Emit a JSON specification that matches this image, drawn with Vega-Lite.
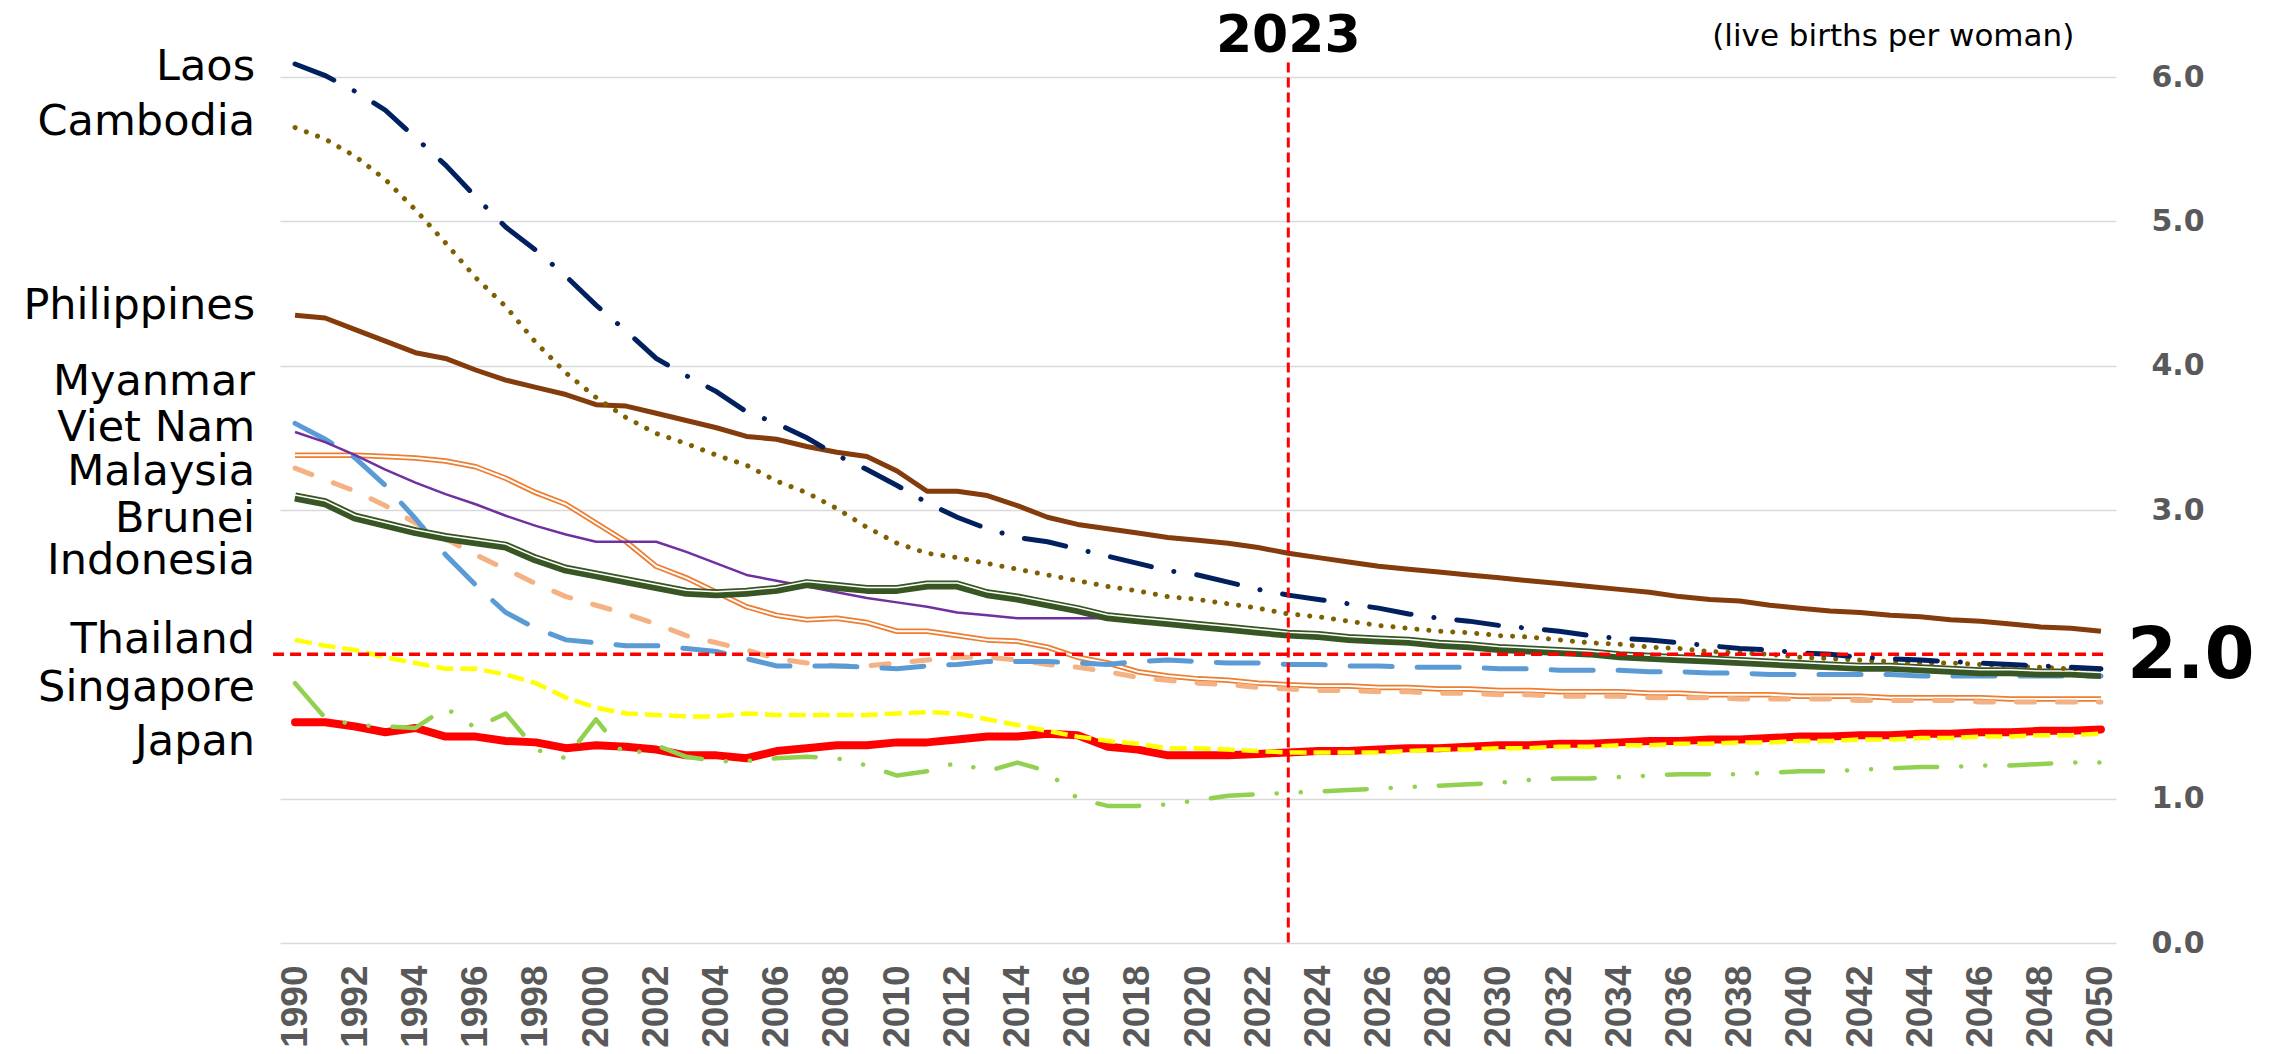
{
"$schema": "https://vega.github.io/schema/vega-lite/v6.json",
"width": 1836, "height": 866,
"autosize": "none",
"padding": {"left": 280, "top": 77, "right": 156, "bottom": 111},
"background": "white",
"config": {"view": {"stroke": null}},
"data": {"values": [
{"year":1990,"Laos":6.09,"Cambodia":5.65,"Philippines":4.35,"Myanmar":3.54,"Viet Nam":3.60,"Malaysia":3.38,"Brunei":3.29,"Indonesia":3.09,"Thailand":2.10,"Singapore":1.80,"Japan":1.53},
{"year":1991,"Laos":6.01,"Cambodia":5.57,"Philippines":4.33,"Myanmar":3.47,"Viet Nam":3.49,"Malaysia":3.38,"Brunei":3.21,"Indonesia":3.05,"Thailand":2.06,"Singapore":1.56,"Japan":1.53},
{"year":1992,"Laos":5.90,"Cambodia":5.45,"Philippines":4.25,"Myanmar":3.38,"Viet Nam":3.36,"Malaysia":3.38,"Brunei":3.13,"Indonesia":2.95,"Thailand":2.03,"Singapore":1.51,"Japan":1.50},
{"year":1993,"Laos":5.77,"Cambodia":5.29,"Philippines":4.17,"Myanmar":3.28,"Viet Nam":3.17,"Malaysia":3.37,"Brunei":3.03,"Indonesia":2.90,"Thailand":1.98,"Singapore":1.50,"Japan":1.46},
{"year":1994,"Laos":5.58,"Cambodia":5.08,"Philippines":4.09,"Myanmar":3.19,"Viet Nam":2.94,"Malaysia":3.36,"Brunei":2.91,"Indonesia":2.85,"Thailand":1.94,"Singapore":1.49,"Japan":1.49},
{"year":1995,"Laos":5.39,"Cambodia":4.85,"Philippines":4.05,"Myanmar":3.11,"Viet Nam":2.69,"Malaysia":3.34,"Brunei":2.80,"Indonesia":2.81,"Thailand":1.90,"Singapore":1.63,"Japan":1.43},
{"year":1996,"Laos":5.17,"Cambodia":4.61,"Philippines":3.97,"Myanmar":3.04,"Viet Nam":2.48,"Malaysia":3.30,"Brunei":2.69,"Indonesia":2.78,"Thailand":1.90,"Singapore":1.49,"Japan":1.43},
{"year":1997,"Laos":4.96,"Cambodia":4.41,"Philippines":3.90,"Myanmar":2.96,"Viet Nam":2.29,"Malaysia":3.22,"Brunei":2.59,"Indonesia":2.75,"Thailand":1.86,"Singapore":1.59,"Japan":1.40},
{"year":1998,"Laos":4.80,"Cambodia":4.16,"Philippines":3.85,"Myanmar":2.89,"Viet Nam":2.18,"Malaysia":3.12,"Brunei":2.49,"Indonesia":2.66,"Thailand":1.80,"Singapore":1.34,"Japan":1.39},
{"year":1999,"Laos":4.62,"Cambodia":3.95,"Philippines":3.80,"Myanmar":2.83,"Viet Nam":2.10,"Malaysia":3.04,"Brunei":2.40,"Indonesia":2.59,"Thailand":1.70,"Singapore":1.28,"Japan":1.35},
{"year":2000,"Laos":4.42,"Cambodia":3.78,"Philippines":3.73,"Myanmar":2.78,"Viet Nam":2.08,"Malaysia":2.91,"Brunei":2.34,"Indonesia":2.55,"Thailand":1.63,"Singapore":1.55,"Japan":1.37},
{"year":2001,"Laos":4.24,"Cambodia":3.64,"Philippines":3.72,"Myanmar":2.78,"Viet Nam":2.06,"Malaysia":2.78,"Brunei":2.28,"Indonesia":2.51,"Thailand":1.59,"Singapore":1.29,"Japan":1.36},
{"year":2002,"Laos":4.05,"Cambodia":3.53,"Philippines":3.67,"Myanmar":2.78,"Viet Nam":2.06,"Malaysia":2.61,"Brunei":2.21,"Indonesia":2.47,"Thailand":1.58,"Singapore":1.37,"Japan":1.34},
{"year":2003,"Laos":3.93,"Cambodia":3.46,"Philippines":3.62,"Myanmar":2.71,"Viet Nam":2.04,"Malaysia":2.53,"Brunei":2.13,"Indonesia":2.43,"Thailand":1.57,"Singapore":1.29,"Japan":1.30},
{"year":2004,"Laos":3.82,"Cambodia":3.38,"Philippines":3.57,"Myanmar":2.63,"Viet Nam":2.02,"Malaysia":2.43,"Brunei":2.08,"Indonesia":2.42,"Thailand":1.57,"Singapore":1.26,"Japan":1.30},
{"year":2005,"Laos":3.68,"Cambodia":3.31,"Philippines":3.51,"Myanmar":2.55,"Viet Nam":1.97,"Malaysia":2.33,"Brunei":2.03,"Indonesia":2.43,"Thailand":1.59,"Singapore":1.26,"Japan":1.28},
{"year":2006,"Laos":3.60,"Cambodia":3.20,"Philippines":3.49,"Myanmar":2.51,"Viet Nam":1.92,"Malaysia":2.27,"Brunei":1.97,"Indonesia":2.45,"Thailand":1.58,"Singapore":1.28,"Japan":1.33},
{"year":2007,"Laos":3.50,"Cambodia":3.12,"Philippines":3.44,"Myanmar":2.47,"Viet Nam":1.92,"Malaysia":2.24,"Brunei":1.94,"Indonesia":2.49,"Thailand":1.58,"Singapore":1.29,"Japan":1.35},
{"year":2008,"Laos":3.38,"Cambodia":3.01,"Philippines":3.40,"Myanmar":2.43,"Viet Nam":1.92,"Malaysia":2.25,"Brunei":1.92,"Indonesia":2.47,"Thailand":1.58,"Singapore":1.28,"Japan":1.37},
{"year":2009,"Laos":3.28,"Cambodia":2.88,"Philippines":3.37,"Myanmar":2.39,"Viet Nam":1.91,"Malaysia":2.22,"Brunei":1.92,"Indonesia":2.45,"Thailand":1.58,"Singapore":1.23,"Japan":1.37},
{"year":2010,"Laos":3.17,"Cambodia":2.77,"Philippines":3.27,"Myanmar":2.36,"Viet Nam":1.90,"Malaysia":2.16,"Brunei":1.94,"Indonesia":2.45,"Thailand":1.59,"Singapore":1.16,"Japan":1.39},
{"year":2011,"Laos":3.05,"Cambodia":2.70,"Philippines":3.13,"Myanmar":2.33,"Viet Nam":1.92,"Malaysia":2.16,"Brunei":1.96,"Indonesia":2.48,"Thailand":1.60,"Singapore":1.19,"Japan":1.39},
{"year":2012,"Laos":2.95,"Cambodia":2.67,"Philippines":3.13,"Myanmar":2.29,"Viet Nam":1.93,"Malaysia":2.13,"Brunei":1.98,"Indonesia":2.48,"Thailand":1.59,"Singapore":1.25,"Japan":1.41},
{"year":2013,"Laos":2.87,"Cambodia":2.63,"Philippines":3.10,"Myanmar":2.27,"Viet Nam":1.95,"Malaysia":2.10,"Brunei":1.98,"Indonesia":2.42,"Thailand":1.55,"Singapore":1.19,"Japan":1.43},
{"year":2014,"Laos":2.81,"Cambodia":2.59,"Philippines":3.03,"Myanmar":2.25,"Viet Nam":1.95,"Malaysia":2.09,"Brunei":1.96,"Indonesia":2.39,"Thailand":1.51,"Singapore":1.25,"Japan":1.43},
{"year":2015,"Laos":2.78,"Cambodia":2.55,"Philippines":2.95,"Myanmar":2.25,"Viet Nam":1.95,"Malaysia":2.05,"Brunei":1.93,"Indonesia":2.35,"Thailand":1.47,"Singapore":1.19,"Japan":1.45},
{"year":2016,"Laos":2.73,"Cambodia":2.51,"Philippines":2.90,"Myanmar":2.25,"Viet Nam":1.94,"Malaysia":1.98,"Brunei":1.91,"Indonesia":2.31,"Thailand":1.43,"Singapore":1.00,"Japan":1.44},
{"year":2017,"Laos":2.68,"Cambodia":2.47,"Philippines":2.87,"Myanmar":2.25,"Viet Nam":1.93,"Malaysia":1.94,"Brunei":1.88,"Indonesia":2.26,"Thailand":1.40,"Singapore":0.95,"Japan":1.36},
{"year":2018,"Laos":2.63,"Cambodia":2.44,"Philippines":2.84,"Myanmar":2.23,"Viet Nam":1.95,"Malaysia":1.88,"Brunei":1.84,"Indonesia":2.24,"Thailand":1.38,"Singapore":0.95,"Japan":1.34},
{"year":2019,"Laos":2.58,"Cambodia":2.40,"Philippines":2.81,"Myanmar":2.21,"Viet Nam":1.96,"Malaysia":1.85,"Brunei":1.82,"Indonesia":2.22,"Thailand":1.35,"Singapore":0.96,"Japan":1.30},
{"year":2020,"Laos":2.55,"Cambodia":2.38,"Philippines":2.79,"Myanmar":2.19,"Viet Nam":1.95,"Malaysia":1.83,"Brunei":1.80,"Indonesia":2.20,"Thailand":1.35,"Singapore":0.99,"Japan":1.30},
{"year":2021,"Laos":2.50,"Cambodia":2.35,"Philippines":2.77,"Myanmar":2.17,"Viet Nam":1.94,"Malaysia":1.82,"Brunei":1.79,"Indonesia":2.18,"Thailand":1.34,"Singapore":1.02,"Japan":1.30},
{"year":2022,"Laos":2.45,"Cambodia":2.32,"Philippines":2.74,"Myanmar":2.15,"Viet Nam":1.94,"Malaysia":1.80,"Brunei":1.77,"Indonesia":2.16,"Thailand":1.33,"Singapore":1.03,"Japan":1.31},
{"year":2023,"Laos":2.41,"Cambodia":2.28,"Philippines":2.70,"Myanmar":2.13,"Viet Nam":1.93,"Malaysia":1.79,"Brunei":1.76,"Indonesia":2.14,"Thailand":1.32,"Singapore":1.04,"Japan":1.32},
{"year":2024,"Laos":2.38,"Cambodia":2.26,"Philippines":2.67,"Myanmar":2.12,"Viet Nam":1.93,"Malaysia":1.78,"Brunei":1.75,"Indonesia":2.13,"Thailand":1.32,"Singapore":1.05,"Japan":1.33},
{"year":2025,"Laos":2.35,"Cambodia":2.23,"Philippines":2.64,"Myanmar":2.10,"Viet Nam":1.92,"Malaysia":1.78,"Brunei":1.75,"Indonesia":2.11,"Thailand":1.32,"Singapore":1.06,"Japan":1.33},
{"year":2026,"Laos":2.32,"Cambodia":2.20,"Philippines":2.61,"Myanmar":2.09,"Viet Nam":1.92,"Malaysia":1.77,"Brunei":1.74,"Indonesia":2.10,"Thailand":1.32,"Singapore":1.07,"Japan":1.34},
{"year":2027,"Laos":2.28,"Cambodia":2.18,"Philippines":2.59,"Myanmar":2.08,"Viet Nam":1.91,"Malaysia":1.77,"Brunei":1.74,"Indonesia":2.09,"Thailand":1.33,"Singapore":1.08,"Japan":1.35},
{"year":2028,"Laos":2.25,"Cambodia":2.16,"Philippines":2.57,"Myanmar":2.06,"Viet Nam":1.91,"Malaysia":1.76,"Brunei":1.73,"Indonesia":2.07,"Thailand":1.34,"Singapore":1.09,"Japan":1.35},
{"year":2029,"Laos":2.23,"Cambodia":2.15,"Philippines":2.55,"Myanmar":2.05,"Viet Nam":1.91,"Malaysia":1.76,"Brunei":1.73,"Indonesia":2.06,"Thailand":1.34,"Singapore":1.10,"Japan":1.36},
{"year":2030,"Laos":2.20,"Cambodia":2.13,"Philippines":2.53,"Myanmar":2.03,"Viet Nam":1.90,"Malaysia":1.75,"Brunei":1.72,"Indonesia":2.04,"Thailand":1.35,"Singapore":1.11,"Japan":1.37},
{"year":2031,"Laos":2.18,"Cambodia":2.12,"Philippines":2.51,"Myanmar":2.02,"Viet Nam":1.90,"Malaysia":1.75,"Brunei":1.72,"Indonesia":2.03,"Thailand":1.35,"Singapore":1.13,"Japan":1.37},
{"year":2032,"Laos":2.16,"Cambodia":2.10,"Philippines":2.49,"Myanmar":2.01,"Viet Nam":1.89,"Malaysia":1.74,"Brunei":1.71,"Indonesia":2.02,"Thailand":1.36,"Singapore":1.14,"Japan":1.38},
{"year":2033,"Laos":2.13,"Cambodia":2.08,"Philippines":2.47,"Myanmar":2.00,"Viet Nam":1.89,"Malaysia":1.74,"Brunei":1.71,"Indonesia":2.01,"Thailand":1.36,"Singapore":1.14,"Japan":1.38},
{"year":2034,"Laos":2.11,"Cambodia":2.07,"Philippines":2.45,"Myanmar":1.98,"Viet Nam":1.89,"Malaysia":1.74,"Brunei":1.71,"Indonesia":1.99,"Thailand":1.37,"Singapore":1.15,"Japan":1.39},
{"year":2035,"Laos":2.10,"Cambodia":2.05,"Philippines":2.43,"Myanmar":1.97,"Viet Nam":1.88,"Malaysia":1.73,"Brunei":1.70,"Indonesia":1.98,"Thailand":1.37,"Singapore":1.16,"Japan":1.40},
{"year":2036,"Laos":2.08,"Cambodia":2.04,"Philippines":2.40,"Myanmar":1.96,"Viet Nam":1.88,"Malaysia":1.73,"Brunei":1.70,"Indonesia":1.97,"Thailand":1.38,"Singapore":1.17,"Japan":1.40},
{"year":2037,"Laos":2.06,"Cambodia":2.02,"Philippines":2.38,"Myanmar":1.95,"Viet Nam":1.87,"Malaysia":1.72,"Brunei":1.70,"Indonesia":1.96,"Thailand":1.38,"Singapore":1.17,"Japan":1.41},
{"year":2038,"Laos":2.04,"Cambodia":2.01,"Philippines":2.37,"Myanmar":1.94,"Viet Nam":1.87,"Malaysia":1.72,"Brunei":1.69,"Indonesia":1.95,"Thailand":1.39,"Singapore":1.17,"Japan":1.41},
{"year":2039,"Laos":2.03,"Cambodia":2.00,"Philippines":2.34,"Myanmar":1.93,"Viet Nam":1.86,"Malaysia":1.72,"Brunei":1.69,"Indonesia":1.94,"Thailand":1.39,"Singapore":1.18,"Japan":1.42},
{"year":2040,"Laos":2.01,"Cambodia":1.98,"Philippines":2.32,"Myanmar":1.92,"Viet Nam":1.86,"Malaysia":1.71,"Brunei":1.69,"Indonesia":1.93,"Thailand":1.40,"Singapore":1.19,"Japan":1.43},
{"year":2041,"Laos":2.00,"Cambodia":1.97,"Philippines":2.30,"Myanmar":1.91,"Viet Nam":1.86,"Malaysia":1.71,"Brunei":1.69,"Indonesia":1.92,"Thailand":1.40,"Singapore":1.19,"Japan":1.43},
{"year":2042,"Laos":1.98,"Cambodia":1.96,"Philippines":2.29,"Myanmar":1.90,"Viet Nam":1.86,"Malaysia":1.71,"Brunei":1.68,"Indonesia":1.91,"Thailand":1.41,"Singapore":1.20,"Japan":1.44},
{"year":2043,"Laos":1.97,"Cambodia":1.95,"Philippines":2.27,"Myanmar":1.90,"Viet Nam":1.86,"Malaysia":1.70,"Brunei":1.68,"Indonesia":1.91,"Thailand":1.41,"Singapore":1.21,"Japan":1.44},
{"year":2044,"Laos":1.96,"Cambodia":1.94,"Philippines":2.26,"Myanmar":1.89,"Viet Nam":1.85,"Malaysia":1.70,"Brunei":1.68,"Indonesia":1.90,"Thailand":1.42,"Singapore":1.22,"Japan":1.45},
{"year":2045,"Laos":1.95,"Cambodia":1.94,"Philippines":2.24,"Myanmar":1.88,"Viet Nam":1.85,"Malaysia":1.70,"Brunei":1.68,"Indonesia":1.89,"Thailand":1.42,"Singapore":1.22,"Japan":1.45},
{"year":2046,"Laos":1.94,"Cambodia":1.93,"Philippines":2.23,"Myanmar":1.87,"Viet Nam":1.85,"Malaysia":1.70,"Brunei":1.67,"Indonesia":1.88,"Thailand":1.43,"Singapore":1.23,"Japan":1.46},
{"year":2047,"Laos":1.93,"Cambodia":1.92,"Philippines":2.21,"Myanmar":1.87,"Viet Nam":1.85,"Malaysia":1.69,"Brunei":1.67,"Indonesia":1.88,"Thailand":1.43,"Singapore":1.23,"Japan":1.46},
{"year":2048,"Laos":1.92,"Cambodia":1.91,"Philippines":2.19,"Myanmar":1.86,"Viet Nam":1.85,"Malaysia":1.69,"Brunei":1.67,"Indonesia":1.87,"Thailand":1.44,"Singapore":1.24,"Japan":1.47},
{"year":2049,"Laos":1.91,"Cambodia":1.90,"Philippines":2.18,"Myanmar":1.86,"Viet Nam":1.85,"Malaysia":1.69,"Brunei":1.67,"Indonesia":1.87,"Thailand":1.44,"Singapore":1.25,"Japan":1.47},
{"year":2050,"Laos":1.90,"Cambodia":1.90,"Philippines":2.16,"Myanmar":1.85,"Viet Nam":1.85,"Malaysia":1.69,"Brunei":1.67,"Indonesia":1.86,"Thailand":1.45,"Singapore":1.25,"Japan":1.48}
]},
"layer": [
{"mark": {"type": "line", "color": "#ff0000", "strokeWidth": 8, "strokeCap": "round", "strokeJoin": "round"},
 "encoding": {
  "x": {"field": "year", "type": "quantitative", "title": null, "scale": {"domain": [1989.5, 2050.5], "nice": false, "zero": false}, "axis": {"values": [1990,1992,1994,1996,1998,2000,2002,2004,2006,2008,2010,2012,2014,2016,2018,2020,2022,2024,2026,2028,2030,2032,2034,2036,2038,2040,2042,2044,2046,2048,2050], "format": "d", "labelAngle": -90, "labelFont": "Liberation Sans", "labelFontSize": 37, "labelFontWeight": "bold", "labelColor": "#595959", "labelPadding": 22, "ticks": false, "domain": false, "grid": false, "title": null, "labelOverlap": false, "labelBound": false, "labelFlush": false}},
  "y": {"field": "Japan", "type": "quantitative", "title": null, "scale": {"domain": [0, 6], "nice": false, "zero": true}, "axis": {"orient": "right", "values": [0, 1, 3, 4, 5, 6], "format": ".1f", "labelFont": "DejaVu Sans", "labelFontSize": 30, "labelFontWeight": "bold", "labelColor": "#595959", "labelPadding": 35, "labelAlign": "left", "labelBaseline": "middle", "ticks": false, "domain": false, "grid": true, "gridColor": "#d9d9d9", "gridWidth": 1.5, "title": null}}}},
{"mark": {"type": "line", "color": "#ffff00", "strokeWidth": 4.5, "strokeDash": [17, 7]},
 "encoding": {
  "x": {"field": "year", "type": "quantitative", "title": null, "scale": {"domain": [1989.5, 2050.5], "nice": false, "zero": false}, "axis": {"values": [1990,1992,1994,1996,1998,2000,2002,2004,2006,2008,2010,2012,2014,2016,2018,2020,2022,2024,2026,2028,2030,2032,2034,2036,2038,2040,2042,2044,2046,2048,2050], "format": "d", "labelAngle": -90, "labelFont": "Liberation Sans", "labelFontSize": 37, "labelFontWeight": "bold", "labelColor": "#595959", "labelPadding": 22, "ticks": false, "domain": false, "grid": false, "title": null, "labelOverlap": false, "labelBound": false, "labelFlush": false}},
  "y": {"field": "Thailand", "type": "quantitative", "title": null, "scale": {"domain": [0, 6], "nice": false, "zero": true}, "axis": {"orient": "right", "values": [0, 1, 3, 4, 5, 6], "format": ".1f", "labelFont": "DejaVu Sans", "labelFontSize": 30, "labelFontWeight": "bold", "labelColor": "#595959", "labelPadding": 35, "labelAlign": "left", "labelBaseline": "middle", "ticks": false, "domain": false, "grid": true, "gridColor": "#d9d9d9", "gridWidth": 1.5, "title": null}}}},
{"mark": {"type": "line", "color": "#92d050", "strokeWidth": 4.5, "strokeCap": "round", "strokeJoin": "round", "strokeDash": [42, 24, 0.1, 24, 0.1, 24]},
 "encoding": {
  "x": {"field": "year", "type": "quantitative", "title": null, "scale": {"domain": [1989.5, 2050.5], "nice": false, "zero": false}, "axis": {"values": [1990,1992,1994,1996,1998,2000,2002,2004,2006,2008,2010,2012,2014,2016,2018,2020,2022,2024,2026,2028,2030,2032,2034,2036,2038,2040,2042,2044,2046,2048,2050], "format": "d", "labelAngle": -90, "labelFont": "Liberation Sans", "labelFontSize": 37, "labelFontWeight": "bold", "labelColor": "#595959", "labelPadding": 22, "ticks": false, "domain": false, "grid": false, "title": null, "labelOverlap": false, "labelBound": false, "labelFlush": false}},
  "y": {"field": "Singapore", "type": "quantitative", "title": null, "scale": {"domain": [0, 6], "nice": false, "zero": true}, "axis": {"orient": "right", "values": [0, 1, 3, 4, 5, 6], "format": ".1f", "labelFont": "DejaVu Sans", "labelFontSize": 30, "labelFontWeight": "bold", "labelColor": "#595959", "labelPadding": 35, "labelAlign": "left", "labelBaseline": "middle", "ticks": false, "domain": false, "grid": true, "gridColor": "#d9d9d9", "gridWidth": 1.5, "title": null}}}},
{"mark": {"type": "line", "color": "#ed7d31", "strokeWidth": 5.5, "strokeJoin": "round"},
 "encoding": {
  "x": {"field": "year", "type": "quantitative", "title": null, "scale": {"domain": [1989.5, 2050.5], "nice": false, "zero": false}, "axis": {"values": [1990,1992,1994,1996,1998,2000,2002,2004,2006,2008,2010,2012,2014,2016,2018,2020,2022,2024,2026,2028,2030,2032,2034,2036,2038,2040,2042,2044,2046,2048,2050], "format": "d", "labelAngle": -90, "labelFont": "Liberation Sans", "labelFontSize": 37, "labelFontWeight": "bold", "labelColor": "#595959", "labelPadding": 22, "ticks": false, "domain": false, "grid": false, "title": null, "labelOverlap": false, "labelBound": false, "labelFlush": false}},
  "y": {"field": "Malaysia", "type": "quantitative", "title": null, "scale": {"domain": [0, 6], "nice": false, "zero": true}, "axis": {"orient": "right", "values": [0, 1, 3, 4, 5, 6], "format": ".1f", "labelFont": "DejaVu Sans", "labelFontSize": 30, "labelFontWeight": "bold", "labelColor": "#595959", "labelPadding": 35, "labelAlign": "left", "labelBaseline": "middle", "ticks": false, "domain": false, "grid": true, "gridColor": "#d9d9d9", "gridWidth": 1.5, "title": null}}}},
{"mark": {"type": "line", "color": "#ffffff", "strokeWidth": 2, "strokeJoin": "round"},
 "encoding": {
  "x": {"field": "year", "type": "quantitative", "title": null, "scale": {"domain": [1989.5, 2050.5], "nice": false, "zero": false}, "axis": {"values": [1990,1992,1994,1996,1998,2000,2002,2004,2006,2008,2010,2012,2014,2016,2018,2020,2022,2024,2026,2028,2030,2032,2034,2036,2038,2040,2042,2044,2046,2048,2050], "format": "d", "labelAngle": -90, "labelFont": "Liberation Sans", "labelFontSize": 37, "labelFontWeight": "bold", "labelColor": "#595959", "labelPadding": 22, "ticks": false, "domain": false, "grid": false, "title": null, "labelOverlap": false, "labelBound": false, "labelFlush": false}},
  "y": {"field": "Malaysia", "type": "quantitative", "title": null, "scale": {"domain": [0, 6], "nice": false, "zero": true}, "axis": {"orient": "right", "values": [0, 1, 3, 4, 5, 6], "format": ".1f", "labelFont": "DejaVu Sans", "labelFontSize": 30, "labelFontWeight": "bold", "labelColor": "#595959", "labelPadding": 35, "labelAlign": "left", "labelBaseline": "middle", "ticks": false, "domain": false, "grid": true, "gridColor": "#d9d9d9", "gridWidth": 1.5, "title": null}}}},
{"mark": {"type": "line", "color": "#f4b183", "strokeWidth": 5, "strokeCap": "round", "strokeDash": [18, 23]},
 "encoding": {
  "x": {"field": "year", "type": "quantitative", "title": null, "scale": {"domain": [1989.5, 2050.5], "nice": false, "zero": false}, "axis": {"values": [1990,1992,1994,1996,1998,2000,2002,2004,2006,2008,2010,2012,2014,2016,2018,2020,2022,2024,2026,2028,2030,2032,2034,2036,2038,2040,2042,2044,2046,2048,2050], "format": "d", "labelAngle": -90, "labelFont": "Liberation Sans", "labelFontSize": 37, "labelFontWeight": "bold", "labelColor": "#595959", "labelPadding": 22, "ticks": false, "domain": false, "grid": false, "title": null, "labelOverlap": false, "labelBound": false, "labelFlush": false}},
  "y": {"field": "Brunei", "type": "quantitative", "title": null, "scale": {"domain": [0, 6], "nice": false, "zero": true}, "axis": {"orient": "right", "values": [0, 1, 3, 4, 5, 6], "format": ".1f", "labelFont": "DejaVu Sans", "labelFontSize": 30, "labelFontWeight": "bold", "labelColor": "#595959", "labelPadding": 35, "labelAlign": "left", "labelBaseline": "middle", "ticks": false, "domain": false, "grid": true, "gridColor": "#d9d9d9", "gridWidth": 1.5, "title": null}}}},
{"mark": {"type": "line", "color": "#5b9bd5", "strokeWidth": 5, "strokeCap": "round", "strokeDash": [42, 25]},
 "encoding": {
  "x": {"field": "year", "type": "quantitative", "title": null, "scale": {"domain": [1989.5, 2050.5], "nice": false, "zero": false}, "axis": {"values": [1990,1992,1994,1996,1998,2000,2002,2004,2006,2008,2010,2012,2014,2016,2018,2020,2022,2024,2026,2028,2030,2032,2034,2036,2038,2040,2042,2044,2046,2048,2050], "format": "d", "labelAngle": -90, "labelFont": "Liberation Sans", "labelFontSize": 37, "labelFontWeight": "bold", "labelColor": "#595959", "labelPadding": 22, "ticks": false, "domain": false, "grid": false, "title": null, "labelOverlap": false, "labelBound": false, "labelFlush": false}},
  "y": {"field": "Viet Nam", "type": "quantitative", "title": null, "scale": {"domain": [0, 6], "nice": false, "zero": true}, "axis": {"orient": "right", "values": [0, 1, 3, 4, 5, 6], "format": ".1f", "labelFont": "DejaVu Sans", "labelFontSize": 30, "labelFontWeight": "bold", "labelColor": "#595959", "labelPadding": 35, "labelAlign": "left", "labelBaseline": "middle", "ticks": false, "domain": false, "grid": true, "gridColor": "#d9d9d9", "gridWidth": 1.5, "title": null}}}},
{"mark": {"type": "line", "color": "#7030a0", "strokeWidth": 2.5, "strokeJoin": "round"},
 "encoding": {
  "x": {"field": "year", "type": "quantitative", "title": null, "scale": {"domain": [1989.5, 2050.5], "nice": false, "zero": false}, "axis": {"values": [1990,1992,1994,1996,1998,2000,2002,2004,2006,2008,2010,2012,2014,2016,2018,2020,2022,2024,2026,2028,2030,2032,2034,2036,2038,2040,2042,2044,2046,2048,2050], "format": "d", "labelAngle": -90, "labelFont": "Liberation Sans", "labelFontSize": 37, "labelFontWeight": "bold", "labelColor": "#595959", "labelPadding": 22, "ticks": false, "domain": false, "grid": false, "title": null, "labelOverlap": false, "labelBound": false, "labelFlush": false}},
  "y": {"field": "Myanmar", "type": "quantitative", "title": null, "scale": {"domain": [0, 6], "nice": false, "zero": true}, "axis": {"orient": "right", "values": [0, 1, 3, 4, 5, 6], "format": ".1f", "labelFont": "DejaVu Sans", "labelFontSize": 30, "labelFontWeight": "bold", "labelColor": "#595959", "labelPadding": 35, "labelAlign": "left", "labelBaseline": "middle", "ticks": false, "domain": false, "grid": true, "gridColor": "#d9d9d9", "gridWidth": 1.5, "title": null}}}},
{"mark": {"type": "line", "color": "#375623", "strokeWidth": 9, "strokeJoin": "round"},
 "encoding": {
  "x": {"field": "year", "type": "quantitative", "title": null, "scale": {"domain": [1989.5, 2050.5], "nice": false, "zero": false}, "axis": {"values": [1990,1992,1994,1996,1998,2000,2002,2004,2006,2008,2010,2012,2014,2016,2018,2020,2022,2024,2026,2028,2030,2032,2034,2036,2038,2040,2042,2044,2046,2048,2050], "format": "d", "labelAngle": -90, "labelFont": "Liberation Sans", "labelFontSize": 37, "labelFontWeight": "bold", "labelColor": "#595959", "labelPadding": 22, "ticks": false, "domain": false, "grid": false, "title": null, "labelOverlap": false, "labelBound": false, "labelFlush": false}},
  "y": {"field": "Indonesia", "type": "quantitative", "title": null, "scale": {"domain": [0, 6], "nice": false, "zero": true}, "axis": {"orient": "right", "values": [0, 1, 3, 4, 5, 6], "format": ".1f", "labelFont": "DejaVu Sans", "labelFontSize": 30, "labelFontWeight": "bold", "labelColor": "#595959", "labelPadding": 35, "labelAlign": "left", "labelBaseline": "middle", "ticks": false, "domain": false, "grid": true, "gridColor": "#d9d9d9", "gridWidth": 1.5, "title": null}}}},
{"mark": {"type": "line", "color": "#ffffff", "strokeWidth": 1.5, "strokeJoin": "round", "yOffset": -2},
 "encoding": {
  "x": {"field": "year", "type": "quantitative", "title": null, "scale": {"domain": [1989.5, 2050.5], "nice": false, "zero": false}, "axis": {"values": [1990,1992,1994,1996,1998,2000,2002,2004,2006,2008,2010,2012,2014,2016,2018,2020,2022,2024,2026,2028,2030,2032,2034,2036,2038,2040,2042,2044,2046,2048,2050], "format": "d", "labelAngle": -90, "labelFont": "Liberation Sans", "labelFontSize": 37, "labelFontWeight": "bold", "labelColor": "#595959", "labelPadding": 22, "ticks": false, "domain": false, "grid": false, "title": null, "labelOverlap": false, "labelBound": false, "labelFlush": false}},
  "y": {"field": "Indonesia", "type": "quantitative", "title": null, "scale": {"domain": [0, 6], "nice": false, "zero": true}, "axis": {"orient": "right", "values": [0, 1, 3, 4, 5, 6], "format": ".1f", "labelFont": "DejaVu Sans", "labelFontSize": 30, "labelFontWeight": "bold", "labelColor": "#595959", "labelPadding": 35, "labelAlign": "left", "labelBaseline": "middle", "ticks": false, "domain": false, "grid": true, "gridColor": "#d9d9d9", "gridWidth": 1.5, "title": null}}}},
{"mark": {"type": "line", "color": "#843c0c", "strokeWidth": 5, "strokeJoin": "round"},
 "encoding": {
  "x": {"field": "year", "type": "quantitative", "title": null, "scale": {"domain": [1989.5, 2050.5], "nice": false, "zero": false}, "axis": {"values": [1990,1992,1994,1996,1998,2000,2002,2004,2006,2008,2010,2012,2014,2016,2018,2020,2022,2024,2026,2028,2030,2032,2034,2036,2038,2040,2042,2044,2046,2048,2050], "format": "d", "labelAngle": -90, "labelFont": "Liberation Sans", "labelFontSize": 37, "labelFontWeight": "bold", "labelColor": "#595959", "labelPadding": 22, "ticks": false, "domain": false, "grid": false, "title": null, "labelOverlap": false, "labelBound": false, "labelFlush": false}},
  "y": {"field": "Philippines", "type": "quantitative", "title": null, "scale": {"domain": [0, 6], "nice": false, "zero": true}, "axis": {"orient": "right", "values": [0, 1, 3, 4, 5, 6], "format": ".1f", "labelFont": "DejaVu Sans", "labelFontSize": 30, "labelFontWeight": "bold", "labelColor": "#595959", "labelPadding": 35, "labelAlign": "left", "labelBaseline": "middle", "ticks": false, "domain": false, "grid": true, "gridColor": "#d9d9d9", "gridWidth": 1.5, "title": null}}}},
{"mark": {"type": "line", "color": "#7f6000", "strokeWidth": 5, "strokeCap": "round", "strokeDash": [0.1, 11.9]},
 "encoding": {
  "x": {"field": "year", "type": "quantitative", "title": null, "scale": {"domain": [1989.5, 2050.5], "nice": false, "zero": false}, "axis": {"values": [1990,1992,1994,1996,1998,2000,2002,2004,2006,2008,2010,2012,2014,2016,2018,2020,2022,2024,2026,2028,2030,2032,2034,2036,2038,2040,2042,2044,2046,2048,2050], "format": "d", "labelAngle": -90, "labelFont": "Liberation Sans", "labelFontSize": 37, "labelFontWeight": "bold", "labelColor": "#595959", "labelPadding": 22, "ticks": false, "domain": false, "grid": false, "title": null, "labelOverlap": false, "labelBound": false, "labelFlush": false}},
  "y": {"field": "Cambodia", "type": "quantitative", "title": null, "scale": {"domain": [0, 6], "nice": false, "zero": true}, "axis": {"orient": "right", "values": [0, 1, 3, 4, 5, 6], "format": ".1f", "labelFont": "DejaVu Sans", "labelFontSize": 30, "labelFontWeight": "bold", "labelColor": "#595959", "labelPadding": 35, "labelAlign": "left", "labelBaseline": "middle", "ticks": false, "domain": false, "grid": true, "gridColor": "#d9d9d9", "gridWidth": 1.5, "title": null}}}},
{"mark": {"type": "line", "color": "#002060", "strokeWidth": 5, "strokeCap": "round", "strokeDash": [42, 23, 0.1, 23]},
 "encoding": {
  "x": {"field": "year", "type": "quantitative", "title": null, "scale": {"domain": [1989.5, 2050.5], "nice": false, "zero": false}, "axis": {"values": [1990,1992,1994,1996,1998,2000,2002,2004,2006,2008,2010,2012,2014,2016,2018,2020,2022,2024,2026,2028,2030,2032,2034,2036,2038,2040,2042,2044,2046,2048,2050], "format": "d", "labelAngle": -90, "labelFont": "Liberation Sans", "labelFontSize": 37, "labelFontWeight": "bold", "labelColor": "#595959", "labelPadding": 22, "ticks": false, "domain": false, "grid": false, "title": null, "labelOverlap": false, "labelBound": false, "labelFlush": false}},
  "y": {"field": "Laos", "type": "quantitative", "title": null, "scale": {"domain": [0, 6], "nice": false, "zero": true}, "axis": {"orient": "right", "values": [0, 1, 3, 4, 5, 6], "format": ".1f", "labelFont": "DejaVu Sans", "labelFontSize": 30, "labelFontWeight": "bold", "labelColor": "#595959", "labelPadding": 35, "labelAlign": "left", "labelBaseline": "middle", "ticks": false, "domain": false, "grid": true, "gridColor": "#d9d9d9", "gridWidth": 1.5, "title": null}}}},
{"transform": [{"filter": {"field": "year", "equal": 1990}}],
 "mark": {"type": "rule", "color": "#ff0000", "strokeWidth": 3.5, "strokeDash": [11, 6]},
 "encoding": {
  "x": {"datum": 1989.27, "type": "quantitative", "title": null, "scale": {"domain": [1989.5, 2050.5], "nice": false, "zero": false}, "axis": {"values": [1990,1992,1994,1996,1998,2000,2002,2004,2006,2008,2010,2012,2014,2016,2018,2020,2022,2024,2026,2028,2030,2032,2034,2036,2038,2040,2042,2044,2046,2048,2050], "format": "d", "labelAngle": -90, "labelFont": "Liberation Sans", "labelFontSize": 37, "labelFontWeight": "bold", "labelColor": "#595959", "labelPadding": 22, "ticks": false, "domain": false, "grid": false, "title": null, "labelOverlap": false, "labelBound": false, "labelFlush": false}},
  "x2": {"datum": 2050.1},
  "y": {"datum": 2, "type": "quantitative", "title": null, "scale": {"domain": [0, 6], "nice": false, "zero": true}, "axis": {"orient": "right", "values": [0, 1, 3, 4, 5, 6], "format": ".1f", "labelFont": "DejaVu Sans", "labelFontSize": 30, "labelFontWeight": "bold", "labelColor": "#595959", "labelPadding": 35, "labelAlign": "left", "labelBaseline": "middle", "ticks": false, "domain": false, "grid": true, "gridColor": "#d9d9d9", "gridWidth": 1.5, "title": null}}}},
{"transform": [{"filter": {"field": "year", "equal": 2023}}],
 "mark": {"type": "rule", "color": "#ff0000", "strokeWidth": 3, "strokeDash": [10, 5]},
 "encoding": {
  "x": {"datum": 2023, "type": "quantitative", "title": null, "scale": {"domain": [1989.5, 2050.5], "nice": false, "zero": false}, "axis": {"values": [1990,1992,1994,1996,1998,2000,2002,2004,2006,2008,2010,2012,2014,2016,2018,2020,2022,2024,2026,2028,2030,2032,2034,2036,2038,2040,2042,2044,2046,2048,2050], "format": "d", "labelAngle": -90, "labelFont": "Liberation Sans", "labelFontSize": 37, "labelFontWeight": "bold", "labelColor": "#595959", "labelPadding": 22, "ticks": false, "domain": false, "grid": false, "title": null, "labelOverlap": false, "labelBound": false, "labelFlush": false}},
  "y": {"datum": 6.1, "type": "quantitative", "title": null, "scale": {"domain": [0, 6], "nice": false, "zero": true}, "axis": {"orient": "right", "values": [0, 1, 3, 4, 5, 6], "format": ".1f", "labelFont": "DejaVu Sans", "labelFontSize": 30, "labelFontWeight": "bold", "labelColor": "#595959", "labelPadding": 35, "labelAlign": "left", "labelBaseline": "middle", "ticks": false, "domain": false, "grid": true, "gridColor": "#d9d9d9", "gridWidth": 1.5, "title": null}},
  "y2": {"datum": 0}}},
{"data": {"values": [
  {"name": "Laos", "v": 5.98}, {"name": "Cambodia", "v": 5.60}, {"name": "Philippines", "v": 4.32},
  {"name": "Myanmar", "v": 3.80}, {"name": "Viet Nam", "v": 3.48}, {"name": "Malaysia", "v": 3.17},
  {"name": "Brunei", "v": 2.85}, {"name": "Indonesia", "v": 2.56}, {"name": "Thailand", "v": 2.01},
  {"name": "Singapore", "v": 1.68}, {"name": "Japan", "v": 1.30}]},
 "mark": {"type": "text", "align": "right", "baseline": "alphabetic", "dx": -40, "font": "DejaVu Sans", "fontSize": 43, "color": "#000000"},
 "encoding": {
  "x": {"datum": 1990, "type": "quantitative", "title": null, "scale": {"domain": [1989.5, 2050.5], "nice": false, "zero": false}, "axis": {"values": [1990,1992,1994,1996,1998,2000,2002,2004,2006,2008,2010,2012,2014,2016,2018,2020,2022,2024,2026,2028,2030,2032,2034,2036,2038,2040,2042,2044,2046,2048,2050], "format": "d", "labelAngle": -90, "labelFont": "Liberation Sans", "labelFontSize": 37, "labelFontWeight": "bold", "labelColor": "#595959", "labelPadding": 22, "ticks": false, "domain": false, "grid": false, "title": null, "labelOverlap": false, "labelBound": false, "labelFlush": false}},
  "y": {"field": "v", "type": "quantitative", "title": null, "scale": {"domain": [0, 6], "nice": false, "zero": true}, "axis": {"orient": "right", "values": [0, 1, 3, 4, 5, 6], "format": ".1f", "labelFont": "DejaVu Sans", "labelFontSize": 30, "labelFontWeight": "bold", "labelColor": "#595959", "labelPadding": 35, "labelAlign": "left", "labelBaseline": "middle", "ticks": false, "domain": false, "grid": true, "gridColor": "#d9d9d9", "gridWidth": 1.5, "title": null}},
  "text": {"field": "name"}}},
{"transform": [{"filter": {"field": "year", "equal": 2023}}],
 "mark": {"type": "text", "text": "2023", "align": "center", "baseline": "alphabetic", "font": "DejaVu Sans", "fontWeight": "bold", "fontSize": 52, "color": "#000000"},
 "encoding": {
  "x": {"datum": 2023, "type": "quantitative", "title": null, "scale": {"domain": [1989.5, 2050.5], "nice": false, "zero": false}, "axis": {"values": [1990,1992,1994,1996,1998,2000,2002,2004,2006,2008,2010,2012,2014,2016,2018,2020,2022,2024,2026,2028,2030,2032,2034,2036,2038,2040,2042,2044,2046,2048,2050], "format": "d", "labelAngle": -90, "labelFont": "Liberation Sans", "labelFontSize": 37, "labelFontWeight": "bold", "labelColor": "#595959", "labelPadding": 22, "ticks": false, "domain": false, "grid": false, "title": null, "labelOverlap": false, "labelBound": false, "labelFlush": false}},
  "y": {"datum": 6.175, "type": "quantitative", "title": null, "scale": {"domain": [0, 6], "nice": false, "zero": true}, "axis": {"orient": "right", "values": [0, 1, 3, 4, 5, 6], "format": ".1f", "labelFont": "DejaVu Sans", "labelFontSize": 30, "labelFontWeight": "bold", "labelColor": "#595959", "labelPadding": 35, "labelAlign": "left", "labelBaseline": "middle", "ticks": false, "domain": false, "grid": true, "gridColor": "#d9d9d9", "gridWidth": 1.5, "title": null}}}},
{"transform": [{"filter": {"field": "year", "equal": 2043}}],
 "mark": {"type": "text", "text": "(live births per woman)", "align": "center", "baseline": "alphabetic", "font": "DejaVu Sans", "fontWeight": "normal", "fontSize": 31, "color": "#000000"},
 "encoding": {
  "x": {"datum": 2043.1, "type": "quantitative", "title": null, "scale": {"domain": [1989.5, 2050.5], "nice": false, "zero": false}, "axis": {"values": [1990,1992,1994,1996,1998,2000,2002,2004,2006,2008,2010,2012,2014,2016,2018,2020,2022,2024,2026,2028,2030,2032,2034,2036,2038,2040,2042,2044,2046,2048,2050], "format": "d", "labelAngle": -90, "labelFont": "Liberation Sans", "labelFontSize": 37, "labelFontWeight": "bold", "labelColor": "#595959", "labelPadding": 22, "ticks": false, "domain": false, "grid": false, "title": null, "labelOverlap": false, "labelBound": false, "labelFlush": false}},
  "y": {"datum": 6.215, "type": "quantitative", "title": null, "scale": {"domain": [0, 6], "nice": false, "zero": true}, "axis": {"orient": "right", "values": [0, 1, 3, 4, 5, 6], "format": ".1f", "labelFont": "DejaVu Sans", "labelFontSize": 30, "labelFontWeight": "bold", "labelColor": "#595959", "labelPadding": 35, "labelAlign": "left", "labelBaseline": "middle", "ticks": false, "domain": false, "grid": true, "gridColor": "#d9d9d9", "gridWidth": 1.5, "title": null}}}},
{"transform": [{"filter": {"field": "year", "equal": 2050}}],
 "mark": {"type": "text", "text": "2.0", "align": "left", "baseline": "alphabetic", "dx": 26, "font": "DejaVu Sans", "fontWeight": "bold", "fontSize": 72, "color": "#000000"},
 "encoding": {
  "x": {"datum": 2050, "type": "quantitative", "title": null, "scale": {"domain": [1989.5, 2050.5], "nice": false, "zero": false}, "axis": {"values": [1990,1992,1994,1996,1998,2000,2002,2004,2006,2008,2010,2012,2014,2016,2018,2020,2022,2024,2026,2028,2030,2032,2034,2036,2038,2040,2042,2044,2046,2048,2050], "format": "d", "labelAngle": -90, "labelFont": "Liberation Sans", "labelFontSize": 37, "labelFontWeight": "bold", "labelColor": "#595959", "labelPadding": 22, "ticks": false, "domain": false, "grid": false, "title": null, "labelOverlap": false, "labelBound": false, "labelFlush": false}},
  "y": {"datum": 1.835, "type": "quantitative", "title": null, "scale": {"domain": [0, 6], "nice": false, "zero": true}, "axis": {"orient": "right", "values": [0, 1, 3, 4, 5, 6], "format": ".1f", "labelFont": "DejaVu Sans", "labelFontSize": 30, "labelFontWeight": "bold", "labelColor": "#595959", "labelPadding": 35, "labelAlign": "left", "labelBaseline": "middle", "ticks": false, "domain": false, "grid": true, "gridColor": "#d9d9d9", "gridWidth": 1.5, "title": null}}}}
]
}
